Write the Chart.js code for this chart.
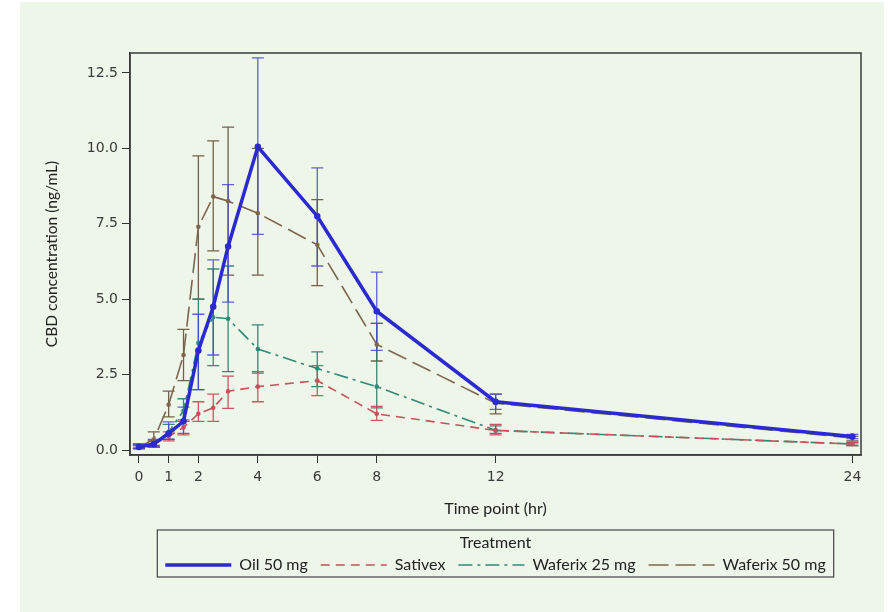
<!DOCTYPE html>
<html><head><meta charset="utf-8">
<script src="https://cdn.jsdelivr.net/npm/chart.js@4.4.1/dist/chart.umd.min.js"></script>
<style>html,body{margin:0;padding:0;background:#fff;}#wrap{position:relative;width:892px;height:612px;}</style>
</head><body><div id="wrap"><canvas id="c" width="892" height="612"></canvas></div>
<script>
const timePoints = [0, 0.5, 1, 1.5, 2, 2.5, 3, 4, 6, 8, 12, 24];
const xTickValues = [0, 1, 2, 4, 6, 8, 12, 24];
const yTickValues = [0, 2.5, 5, 7.5, 10, 12.5];
const seriesNames = ['Oil 50 mg', 'Sativex', 'Waferix 25 mg', 'Waferix 50 mg'];

const oilMean = [0.10, 0.20, 0.55, 0.95, 3.30, 4.75, 6.75, 10.05, 7.75, 4.60, 1.60, 0.45];
const oilLow  = [0.05, 0.10, 0.36, 0.55, 2.00, 3.15, 4.90, 7.15, 6.10, 3.30, 1.35, 0.38];
const oilHigh = [0.20, 0.35, 0.93, 1.42, 4.50, 6.30, 8.80, 13.00, 9.35, 5.90, 1.85, 0.52];

const satMean = [0.10, 0.20, 0.45, 0.75, 1.20, 1.40, 1.95, 2.10, 2.30, 1.20, 0.65, 0.20];
const satLow  = [0.05, 0.10, 0.30, 0.50, 0.95, 0.95, 1.38, 1.60, 1.80, 0.98, 0.50, 0.15];
const satHigh = [0.15, 0.30, 0.60, 1.00, 1.60, 1.85, 2.45, 2.60, 2.80, 1.45, 0.85, 0.25];

const w25Mean = [0.12, 0.20, 0.60, 1.30, 3.55, 4.40, 4.35, 3.35, 2.70, 2.10, 0.65, 0.20];
const w25Low  = [0.05, 0.10, 0.35, 0.95, 2.00, 2.80, 2.60, 2.55, 2.10, 1.40, 0.55, 0.15];
const w25High = [0.20, 0.30, 0.85, 1.70, 5.00, 6.00, 6.10, 4.15, 3.25, 4.20, 0.80, 0.25];

const w50Mean = [0.10, 0.35, 1.50, 3.15, 7.40, 8.40, 8.25, 7.85, 6.80, 3.50, 1.55, 0.40];
const w50Low  = [0.05, 0.15, 1.10, 2.30, 5.00, 6.60, 5.80, 5.80, 5.45, 2.95, 1.20, 0.30];
const w50High = [0.15, 0.60, 1.95, 4.00, 9.75, 10.25, 10.70, 10.00, 8.30, 4.20, 1.85, 0.45];

const toPts = arr => arr.map((v, i) => ({x: timePoints[i], y: v}));

const bgPlugin = {
  id: 'bg',
  beforeDraw(chart) {
    const ctx = chart.ctx;
    ctx.save();
    ctx.fillStyle = '#ffffff';
    ctx.fillRect(0, 0, chart.width, chart.height);
    ctx.fillStyle = '#eef5e9';
    ctx.fillRect(20, 2, 864, 610);
    ctx.restore();
  }
};

const errorBarPlugin = {
  id: 'errorBars',
  beforeDatasetsDraw(chart) {
    const {ctx, scales: {x, y}} = chart;
    for (let i = chart.data.datasets.length - 1; i >= 0; i--) {
      const ds = chart.data.datasets[i];
      ctx.save();
      ctx.strokeStyle = ds.errColor;
      ctx.lineWidth = 1.3;
      ds.data.forEach((p, j) => {
        const px = x.getPixelForValue(p.x);
        const yl = y.getPixelForValue(ds.errLow[j]);
        const yh = y.getPixelForValue(ds.errHigh[j]);
        ctx.beginPath();
        ctx.moveTo(px, yl); ctx.lineTo(px, yh);
        ctx.moveTo(px - 6, yl); ctx.lineTo(px + 6, yl);
        ctx.moveTo(px - 6, yh); ctx.lineTo(px + 6, yh);
        ctx.stroke();
      });
      ctx.restore();
    }
  }
};

const framePlugin = {
  id: 'frame',
  afterDraw(chart) {
    const {ctx, chartArea: a, legend} = chart;
    ctx.save();
    ctx.strokeStyle = '#3a3a3a';
    ctx.lineWidth = 1.5;
    ctx.strokeRect(a.left, a.top, a.right - a.left, a.bottom - a.top);
    const lp = legend.options.labels.padding;
    const span = legend.lineWidths[0] - lp;
    const cx = (legend.left + legend.right) / 2;
    ctx.lineWidth = 1.2;
    ctx.strokeStyle = '#444';
    ctx.strokeRect(cx - span / 2 - 8, legend.top - 1, span + 16, 47);
    ctx.restore();
  }
};

const tickFont = {family: 'DejaVu Sans', size: 14};
const titleFont = {family: 'Lato', size: 16};

new Chart(document.getElementById('c'), {
  type: 'line',
  data: {
    datasets: [
      {label: seriesNames[0], data: toPts(oilMean), errLow: oilLow, errHigh: oilHigh, errColor: 'rgba(70,70,215,0.85)',
       borderColor: '#2a2ad0', backgroundColor: '#2a2ad0', borderWidth: 3.5, pointRadius: 1.5, tension: 0},
      {label: seriesNames[1], data: toPts(satMean), errLow: satLow, errHigh: satHigh, errColor: 'rgba(200,70,85,0.9)',
       borderColor: '#c9505c', backgroundColor: '#c9505c', borderWidth: 1.6, borderDash: [9, 6], pointRadius: 1.5, tension: 0},
      {label: seriesNames[2], data: toPts(w25Mean), errLow: w25Low, errHigh: w25High, errColor: 'rgba(35,125,105,0.9)',
       borderColor: '#2e8a78', backgroundColor: '#2e8a78', borderWidth: 1.6, borderDash: [14, 5, 3, 5], pointRadius: 1.5, tension: 0},
      {label: seriesNames[3], data: toPts(w50Mean), errLow: w50Low, errHigh: w50High, errColor: 'rgba(100,80,60,0.9)',
       borderColor: '#7d6650', backgroundColor: '#7d6650', borderWidth: 1.6, borderDash: [20, 7], pointRadius: 1.5, tension: 0}
    ]
  },
  options: {
    responsive: false,
    animation: false,
    devicePixelRatio: 1,
    layout: {padding: {left: 20, right: 31, top: 53, bottom: 29}},
    plugins: {
      tooltip: {enabled: false},
      legend: {
        position: 'bottom',
        fullSize: false,
        title: {display: true, text: 'Treatment', color: '#222', font: titleFont, padding: {top: 4, bottom: -10.2}},
        labels: {
          usePointStyle: true, pointStyle: 'line', pointStyleWidth: 66,
          color: '#222', font: titleFont, padding: 13,
          generateLabels(chart) {
            const items = Chart.defaults.plugins.legend.labels.generateLabels(chart);
            items.forEach((it, i) => {
              const ds = chart.data.datasets[i];
              it.lineDash = ds.borderDash || [];
              it.lineWidth = ds.borderWidth;
              it.strokeStyle = ds.borderColor;
              it.fillStyle = ds.borderColor;
              it.pointStyle = 'line';
            });
            return items;
          }
        }
      }
    },
    scales: {
      x: {
        type: 'linear', min: -0.30, max: 24.29,
        afterBuildTicks: s => { s.ticks = xTickValues.map(v => ({value: v})); },
        afterFit: s => { s.height = 76; },
        ticks: {font: tickFont, color: '#3a3a3a', padding: 6, autoSkip: false, maxRotation: 0},
        grid: {drawOnChartArea: false, drawTicks: true, tickLength: 8, color: '#333'},
        border: {display: true, color: '#3a3a3a', width: 1.5},
        title: {display: true, text: 'Time point (hr)', color: '#222', font: titleFont, padding: {top: 0, bottom: 13}}
      },
      y: {
        type: 'linear', min: -0.165, max: 13.16,
        afterBuildTicks: s => { s.ticks = yTickValues.map(v => ({value: v})); },
        afterFit: s => { s.width = 110; },
        ticks: {font: tickFont, color: '#3a3a3a', padding: 4, callback: v => Number(v).toFixed(1)},
        grid: {drawOnChartArea: false, drawTicks: true, tickLength: 8, color: '#333'},
        border: {display: true, color: '#3a3a3a', width: 1.5},
        title: {display: true, text: 'CBD concentration (ng/mL)', color: '#222', font: {family: 'Lato', size: 15.5}, padding: {top: 23, bottom: 0}}
      }
    }
  },
  plugins: [bgPlugin, errorBarPlugin, framePlugin]
});
</script></body></html>
